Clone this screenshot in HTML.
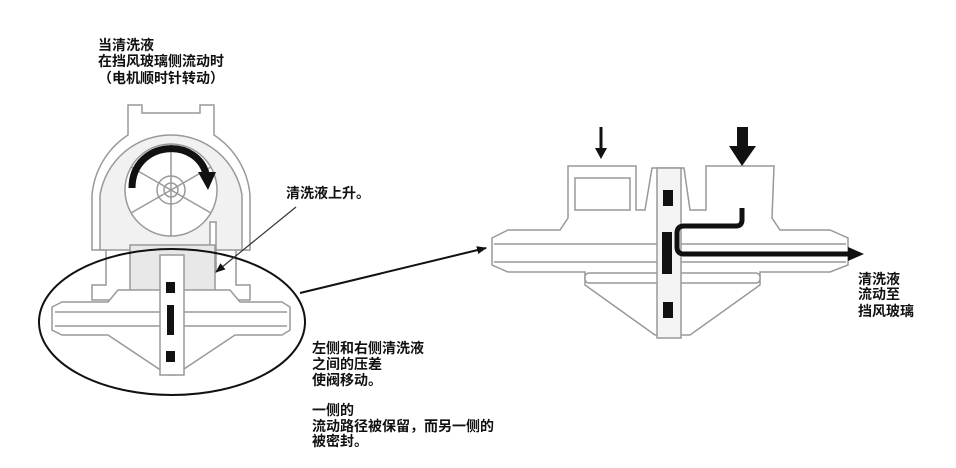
<!DOCTYPE html>
<html><head><meta charset="utf-8"><style>
html,body{margin:0;padding:0;background:#fff;width:956px;height:468px;overflow:hidden}
svg{display:block}
text{font-family:"Liberation Sans","Noto Sans CJK SC",sans-serif;font-size:14px;fill:#111;font-weight:bold}
</style></head><body>
<svg width="956" height="468" viewBox="0 0 956 468" xmlns="http://www.w3.org/2000/svg">
<defs>
<marker id="ah" markerWidth="10" markerHeight="8" refX="9" refY="4" orient="auto" markerUnits="userSpaceOnUse"><path d="M0,0 L10,4 L0,8 z" fill="#111"/></marker>
</defs>
<!-- left texts -->
<text x="98" y="50">当清洗液</text>
<text x="98" y="66">在挡风玻璃侧流动时</text>
<text x="98" y="83">（电机顺时针转动）</text>
<!-- pump housing -->
<g fill="#fff" stroke="#999" stroke-width="1.5">
<path d="M128,135 L128,105 L142,105 L142,113 L200,113 L200,105 L214,105 L214,135 A80,80 0 0 1 250,195 L250,250 L236,250 L236,285 L250,285 L250,300 L92,300 L92,285 L106,285 L106,250 L92,250 L92,195 A80,80 0 0 1 128,135 Z"/>
<path d="M100,195 A72,72 0 0 1 242,195 L242,250 L100,250 Z" fill="#f1f1f1"/>
<circle cx="171" cy="190" r="46" fill="#fff"/>
<circle cx="171" cy="190" r="14"/>
<circle cx="171" cy="190" r="7"/>
<line x1="171" y1="144" x2="171" y2="236"/>
<line x1="131" y1="213" x2="211" y2="167"/>
<line x1="131" y1="167" x2="211" y2="213"/>
<rect x="210" y="222" width="6" height="50"/>
<rect x="130" y="245" width="85" height="55" fill="#e8e8e8"/>
</g>
<path d="M132,188 C132,140 200,135 207,178" fill="none" stroke="#111" stroke-width="7"/>
<path d="M198,172 L216,172 L208,190 Z" fill="#111"/>
<!-- left valve -->
<g fill="#fff" stroke="#999" stroke-width="1.5">
<path d="M52,307 L62,302 L108,302 L118,290 L230,290 L240,302 L282,302 L290,307 L290,330 L282,335 L235,335 L175,375 L168,375 L108,335 L62,335 L52,330 Z"/>
<line x1="55" y1="312" x2="287" y2="312"/>
<line x1="55" y1="326" x2="287" y2="326"/>
<rect x="160" y="255" width="24" height="120"/>
</g>
<rect x="166" y="282" width="9" height="11" fill="#111"/>
<rect x="167" y="305" width="7" height="30" fill="#111"/>
<rect x="166" y="351" width="9" height="11" fill="#111"/>
<!-- ellipse and arrows -->
<ellipse cx="172" cy="322" rx="133" ry="73" fill="none" stroke="#111" stroke-width="2"/>
<line x1="300" y1="293" x2="486" y2="248" stroke="#111" stroke-width="2" marker-end="url(#ah)"/>
<line x1="296" y1="207" x2="216" y2="272" stroke="#333" stroke-width="1.2" marker-end="url(#ah)"/>
<text x="286" y="198">清洗液上升。</text>
<text x="312" y="353">左侧和右侧清洗液</text>
<text x="312" y="369">之间的压差</text>
<text x="312" y="385">使阀移动。</text>
<text x="312" y="415">一侧的</text>
<text x="312" y="431">流动路径被保留，而另一侧的</text>
<text x="312" y="446">被密封。</text>
<!-- right valve -->
<g fill="#fff" stroke="#999" stroke-width="1.5">
<path d="M492,238 L508,230 L560,230 L568,218 L568,166 L636,166 L636,210 L645,210 L652,168 L684,168 L690,210 L706,210 L706,166 L774,166 L772,218 L780,230 L830,230 L848,238 L848,265 L830,272 L760,272 L760,285 L690,335 L655,335 L585,285 L585,272 L508,272 L492,265 Z"/>
<rect x="575" y="178" width="55" height="32"/>
<line x1="494" y1="244" x2="846" y2="244"/>
<line x1="494" y1="262" x2="846" y2="262"/>
<rect x="585" y="273" width="175" height="10" rx="4"/>
<rect x="657" y="168" width="24" height="170" fill="#f4f4f4"/>
</g>
<rect x="663" y="190" width="10" height="16" fill="#111"/>
<rect x="662" y="232" width="10" height="42" fill="#111"/>
<rect x="663" y="302" width="10" height="16" fill="#111"/>
<path d="M742,208 L742,220 Q742,226 736,226 L684,226 Q677,226 677,233 L677,247 Q677,254 684,254 L850,254" fill="none" stroke="#111" stroke-width="5"/>
<path d="M848,247 L864,254 L848,261 Z" fill="#111"/>
<!-- down arrows -->
<line x1="601" y1="127" x2="601" y2="150" stroke="#111" stroke-width="3"/>
<path d="M595,148 L607,148 L601,159 Z" fill="#111"/>
<rect x="737" y="127" width="11" height="20" fill="#111"/>
<path d="M729,146 L756,146 L742,166 Z" fill="#111"/>
<text x="858" y="284">清洗液</text>
<text x="858" y="299">流动至</text>
<text x="858" y="316">挡风玻璃</text>
</svg>
</body></html>
